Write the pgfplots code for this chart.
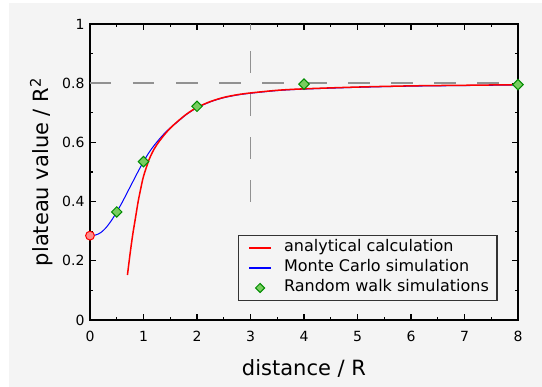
\documentclass[border=0pt]{standalone}
\usepackage{pgfplots}
\pgfplotsset{compat=1.18}
\usepackage{fontspec}
\setmainfont{DejaVu Sans}
\usetikzlibrary{backgrounds,calc}
\definecolor{bgray}{RGB}{244,244,244}
\definecolor{dgray}{RGB}{145,145,145}
\definecolor{mkgreen}{RGB}{0,140,0}
\definecolor{mkfill}{RGB}{120,205,95}
\begin{document}
\begin{tikzpicture}
\begin{axis}[
  scale only axis,
  width=428bp, height=296bp,
  xmin=0, xmax=8, ymin=0, ymax=1,
  clip=false,
  xtick={0,1,...,8},
  ytick={0,0.2,0.4,0.6,0.8,1},
  minor x tick num=1,
  minor y tick num=1,
  tick align=inside,
  major tick length=6bp,
  minor tick length=3bp,
  every tick/.style={black, line width=1.1bp},
  axis line style={line width=1.3bp},
  /pgf/number format/assume math mode=true,
  ticklabel style={font=\fontsize{14bp}{16bp}\selectfont},
  xticklabel style={yshift=-8bp},
  yticklabel style={xshift=-2bp},
  xlabel={distance / R},
  ylabel={plateau value / R\textsuperscript{2}},
  label style={font=\fontsize{21bp}{24bp}\selectfont},
  xlabel style={at={(axis description cs:0.5,-0.189)}, anchor=base},
  ylabel style={at={(axis description cs:-0.0974,0.5)}, anchor=base},
  legend style={
    at={(rel axis cs:0.951,0.067)}, anchor=south east,
    draw=none, fill=bgray, name=lgd,
    font=\fontsize{16bp}{19bp}\selectfont,
    inner xsep=6bp, inner ysep=2bp,
    nodes={text height=12bp, text depth=4bp, inner sep=2bp},
    row sep=0bp,
  },
  legend cell align=left,
  legend image code/.code={\pgfpathrectangle{\pgfpoint{-4bp}{-1bp}}{\pgfpoint{37bp}{2bp}}\pgfusepath{use as bounding box}\draw[mark repeat=2, mark phase=2, #1] plot coordinates {(0bp,0bp) (11bp,0bp) (22bp,0bp)};},
]
% legend entries
\addlegendimage{draw=red, line width=1.3bp}
\addlegendentry{analytical calculation}
\addlegendimage{draw=blue, line width=1.1bp}
\addlegendentry{Monte Carlo simulation}
\addlegendimage{only marks, mark=square*, mark size=3.2bp, mark options={rotate=45, fill=mkfill, draw=mkgreen, line width=1bp}}
\addlegendentry{Random walk simulations}

% dashed guide lines
\addplot[forget plot, dgray, line width=1.6bp, dash pattern=on 21.5bp off 21.5bp] coordinates {(0,0.8) (8,0.8)};
\addplot[forget plot, dgray, line width=1.6bp, dash pattern=on 21.5bp off 21.5bp] coordinates {(3,0.4) (3,1)};

% Monte Carlo simulation
\addplot[forget plot, blue, line width=1.0bp, smooth] coordinates {
(0,0.285) (0.1,0.287) (0.2,0.295) (0.3,0.312) (0.4,0.336) (0.5,0.365)
(0.6,0.397) (0.7,0.432) (0.8,0.467) (0.9,0.502) (1.0,0.535) (1.1,0.565)
(1.2,0.590) (1.3,0.612) (1.4,0.632) (1.5,0.649) (1.6,0.664) (1.8,0.694)
(2.0,0.717) (2.25,0.737) (2.5,0.751) (2.75,0.760) (3.0,0.766) (3.5,0.775)
(4.0,0.780) (5.0,0.786) (6.0,0.790) (7.0,0.792) (8.0,0.794)
};

% analytical calculation
\addplot[forget plot, red, line width=1.5bp, smooth] coordinates {
(0.70,0.152) (0.75,0.225) (0.80,0.290) (0.85,0.345) (0.90,0.400) (0.95,0.445)
(1.00,0.485) (1.10,0.540) (1.20,0.578) (1.30,0.605) (1.40,0.628) (1.50,0.648)
(1.60,0.665) (1.80,0.695) (2.00,0.718) (2.25,0.738) (2.50,0.752) (2.75,0.761)
(3.00,0.767) (3.50,0.776) (4.00,0.781) (5.00,0.787) (6.00,0.791) (7.00,0.793)
(8.00,0.795)
};

% starting point
\addplot[forget plot, only marks, mark=*, mark size=4.4bp, mark options={draw=red, fill=red!45, line width=1bp}] coordinates {(0,0.285)};

% random walk simulations
\addplot[forget plot, only marks, mark=square*, mark size=3.7bp, mark options={rotate=45, fill=mkfill, draw=mkgreen, line width=1bp}] coordinates {
(0.5,0.365) (1,0.535) (2,0.722) (4,0.797) (8,0.795)
};
\end{axis}
\draw[black!80, line width=1.2bp] (lgd.south west) rectangle (lgd.north east);
\begin{scope}[on background layer]
\fill[white] ($(current axis.south west)+(-90bp,-67bp)$) rectangle ($(current axis.north east)+(24bp,24bp)$);
\fill[bgray] ($(current axis.south west)+(-81bp,-67bp)$) rectangle ($(current axis.north east)+(24bp,21bp)$);
\end{scope}
\end{tikzpicture}
\end{document}
